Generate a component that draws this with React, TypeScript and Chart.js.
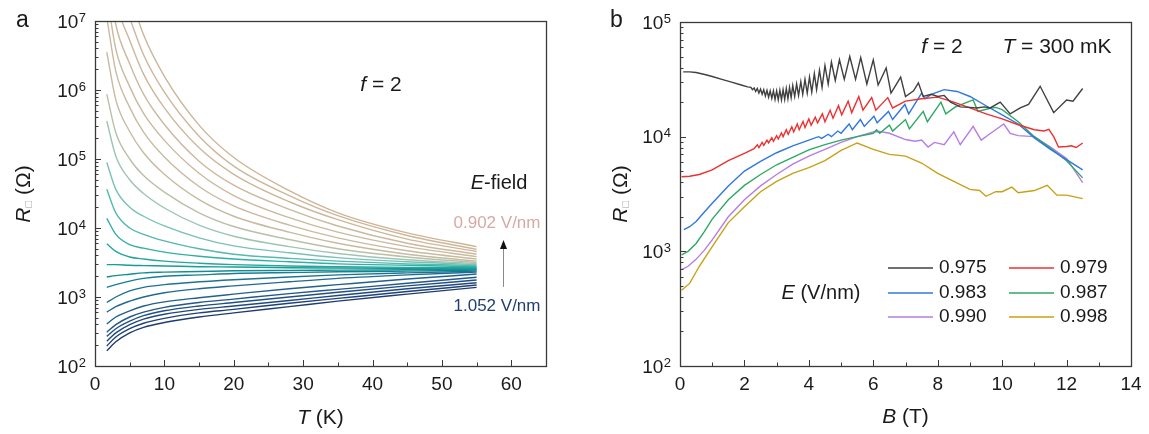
import React, { useEffect, useRef } from 'react';
import { Chart, registerables } from 'chart.js';

Chart.register(...registerables);

const FONT = '"Liberation Sans", Arial, Helvetica, sans-serif';
const W = 1149;
const H = 434;
const AXIS = '#3a3a3a';
const TEXT = '#1a1a1a';

// ---------------- Panel a : R(T) for gate fields 0.902 ... 1.052 V/nm ----------------
const temperatureK = [1.7, 3, 5, 7, 10, 15, 20, 28, 35, 45, 55];
const sheetResistanceA: number[][] = [
  [1.0e9, 1.1e8, 2.5e7, 6.3e6, 1.58e6, 3.1e5, 1.05e5, 3.47e4, 1.66e4, 8.5e3, 5.37e3],
  [4.0e8, 4.7e7, 1.12e7, 3.24e6, 9.3e5, 2.14e5, 7.9e4, 2.95e4, 1.51e4, 7.8e3, 4.9e3],
  [1.58e8, 2.04e7, 5.25e6, 1.7e6, 5.5e5, 1.45e5, 6.0e4, 2.4e4, 1.32e4, 6.9e3, 4.57e3],
  [6.3e7, 8.9e6, 2.4e6, 8.7e5, 3.16e5, 9.3e4, 4.17e4, 1.86e4, 1.07e4, 6.0e3, 4.17e3],
  [2.5e7, 3.9e6, 1.12e6, 4.57e5, 1.86e5, 6.2e4, 2.95e4, 1.41e4, 8.7e3, 5.37e3, 3.85e3],
  [1.12e7, 1.86e6, 5.6e5, 2.45e5, 1.07e5, 4.0e4, 2.09e4, 1.1e4, 7.2e3, 4.68e3, 3.55e3],
  [3.55e6, 7.2e5, 2.5e5, 1.23e5, 6.0e4, 2.57e4, 1.48e4, 8.7e3, 6.0e3, 4.17e3, 3.31e3],
  [8.7e5, 2.4e5, 1.0e5, 5.75e4, 3.31e4, 1.66e4, 1.05e4, 6.8e3, 5.0e3, 3.8e3, 3.16e3],
  [3.55e5, 1.1e5, 5.0e4, 3.16e4, 1.95e4, 1.1e4, 7.6e3, 5.37e3, 4.27e3, 3.47e3, 3.05e3],
  [8.9e4, 3.63e4, 2.0e4, 1.48e4, 1.07e4, 7.2e3, 5.5e3, 4.37e3, 3.72e3, 3.24e3, 2.95e3],
  [3.63e4, 1.66e4, 1.0e4, 8.1e3, 6.5e3, 5.0e3, 4.17e3, 3.63e3, 3.31e3, 3.02e3, 2.85e3],
  [1.38e4, 8.1e3, 5.75e3, 5.1e3, 4.47e3, 3.9e3, 3.55e3, 3.24e3, 3.02e3, 2.88e3, 2.75e3],
  [5.9e3, 4.57e3, 3.8e3, 3.55e3, 3.31e3, 3.09e3, 2.95e3, 2.82e3, 2.75e3, 2.69e3, 2.66e3],
  [2.95e3, 2.95e3, 2.88e3, 2.85e3, 2.82e3, 2.75e3, 2.72e3, 2.66e3, 2.63e3, 2.6e3, 2.57e3],
  [1.95e3, 2.04e3, 2.14e3, 2.24e3, 2.29e3, 2.34e3, 2.4e3, 2.43e3, 2.45e3, 2.48e3, 2.51e3],
  [1.38e3, 1.51e3, 1.7e3, 1.86e3, 2.0e3, 2.09e3, 2.19e3, 2.26e3, 2.32e3, 2.37e3, 2.45e3],
  [832, 1.0e3, 1.23e3, 1.38e3, 1.51e3, 1.66e3, 1.78e3, 1.95e3, 2.09e3, 2.24e3, 2.37e3],
  [603, 724, 871, 1.0e3, 1.15e3, 1.32e3, 1.45e3, 1.66e3, 1.86e3, 2.09e3, 2.29e3],
  [407, 513, 631, 741, 851, 977, 1.1e3, 1.32e3, 1.51e3, 1.82e3, 2.15e3],
  [309, 398, 513, 603, 708, 832, 933, 1.12e3, 1.29e3, 1.58e3, 1.93e3],
  [269, 347, 447, 537, 631, 741, 832, 1.0e3, 1.17e3, 1.45e3, 1.76e3],
  [229, 302, 398, 479, 562, 661, 741, 891, 1.05e3, 1.32e3, 1.61e3],
  [195, 263, 347, 417, 490, 589, 661, 813, 955, 1.2e3, 1.49e3],
  [166, 224, 302, 363, 427, 513, 589, 724, 871, 1.1e3, 1.38e3],
];
const fieldTopLabel = '0.902 V/nm';
const fieldBottomLabel = '1.052 V/nm';

const paletteA = [
  'rgb(206,181,152)', 'rgb(206,182,153)', 'rgb(205,183,155)', 'rgb(204,184,157)',
  'rgb(203,185,159)', 'rgb(201,186,160)', 'rgb(198,187,160)', 'rgb(185,192,168)',
  'rgb(158,197,180)', 'rgb(122,193,181)', 'rgb(84,185,175)', 'rgb(50,175,165)',
  'rgb(33,167,158)', 'rgb(22,157,151)', 'rgb(18,142,146)', 'rgb(22,128,146)',
  'rgb(28,116,146)', 'rgb(33,106,145)', 'rgb(35,96,141)', 'rgb(35,88,136)',
  'rgb(34,80,131)', 'rgb(33,73,125)', 'rgb(32,66,118)', 'rgb(31,60,112)',
];

// ---------------- Panel b : R(B) at T = 300 mK ----------------
const fieldLabelsB = ['0.975', '0.979', '0.983', '0.987', '0.990', '0.998'];
const colorsB = ['#404040', '#ef3030', '#2f78e0', '#2ea865', '#b57ee6', '#c9a015'];

const bField0975 = [0.1, 0.3, 0.5, 0.8, 1.0, 1.3, 1.6, 1.9, 2.1, 2.2, 2.25, 2.3, 2.35, 2.4, 2.45, 2.5, 2.55, 2.6, 2.65, 2.7, 2.75, 2.8, 2.85, 2.9, 2.95, 3.0, 3.05, 3.1, 3.15, 3.2, 3.25, 3.3, 3.35, 3.4, 3.45, 3.5, 3.56, 3.62, 3.68, 3.75, 3.81, 3.88, 3.95, 4.02, 4.09, 4.17, 4.24, 4.33, 4.41, 4.5, 4.6, 4.7, 4.82, 4.95, 5.1, 5.27, 5.45, 5.61, 5.8, 6.0, 6.15, 6.4, 6.55, 6.7, 6.85, 7.0, 7.25, 7.4, 7.55, 7.8, 8.0, 8.2, 8.4, 8.7, 9.0, 9.2, 9.45, 9.63, 9.94, 10.25, 10.56, 10.82, 11.18, 11.6, 12.0, 12.2, 12.5];
const r0975 = [3.67e4, 3.67e4, 3.63e4, 3.47e4, 3.35e4, 3.16e4, 2.99e4, 2.82e4, 2.72e4, 2.69e4, 2.57e4, 2.66e4, 2.48e4, 2.63e4, 2.4e4, 2.6e4, 2.34e4, 2.57e4, 2.26e4, 2.54e4, 2.21e4, 2.51e4, 2.16e4, 2.51e4, 2.11e4, 2.51e4, 2.09e4, 2.54e4, 2.09e4, 2.57e4, 2.11e4, 2.63e4, 2.14e4, 2.69e4, 2.19e4, 2.79e4, 2.24e4, 2.88e4, 2.29e4, 3.02e4, 2.34e4, 3.16e4, 2.4e4, 3.31e4, 2.45e4, 3.55e4, 2.57e4, 3.8e4, 2.69e4, 4.17e4, 2.88e4, 4.47e4, 3.09e4, 4.68e4, 3.16e4, 5.0e4, 3.16e4, 4.9e4, 2.88e4, 4.68e4, 2.82e4, 3.98e4, 2.4e4, 2.82e4, 3.31e4, 2.24e4, 2.51e4, 2.95e4, 2.24e4, 2.34e4, 2.24e4, 2.29e4, 2.0e4, 1.82e4, 1.8e4, 1.78e4, 1.82e4, 1.78e4, 2.0e4, 1.58e4, 1.78e4, 1.91e4, 2.75e4, 1.62e4, 2.09e4, 2.04e4, 2.63e4];

const bField0979 = [0.05, 0.3, 0.6, 1.0, 1.5, 2.0, 2.3, 2.4, 2.45, 2.55, 2.6, 2.7, 2.75, 2.85, 2.9, 3.0, 3.05, 3.15, 3.2, 3.3, 3.36, 3.47, 3.53, 3.64, 3.7, 3.82, 3.88, 4.0, 4.07, 4.2, 4.27, 4.42, 4.5, 4.66, 4.75, 4.92, 5.02, 5.22, 5.33, 5.55, 5.68, 5.95, 6.08, 6.45, 6.6, 7.0, 7.5, 8.0, 8.5, 9.0, 9.5, 10.0, 10.5, 11.0, 11.3, 11.45, 11.6, 11.75, 12.0, 12.15, 12.3, 12.5];
const r0979 = [4.47e3, 4.52e3, 4.68e3, 5.13e3, 6.17e3, 7.16e3, 7.85e3, 8.51e3, 8.04e3, 8.91e3, 8.41e3, 9.33e3, 8.81e3, 9.77e3, 9.12e3, 1.02e4, 9.55e3, 1.08e4, 1.0e4, 1.15e4, 1.05e4, 1.22e4, 1.1e4, 1.29e4, 1.15e4, 1.36e4, 1.2e4, 1.43e4, 1.26e4, 1.48e4, 1.32e4, 1.58e4, 1.35e4, 1.7e4, 1.45e4, 1.86e4, 1.55e4, 2.04e4, 1.62e4, 2.24e4, 1.7e4, 2.19e4, 1.7e4, 2.19e4, 1.78e4, 2.04e4, 2.14e4, 2.21e4, 2.0e4, 1.78e4, 1.58e4, 1.43e4, 1.27e4, 1.15e4, 1.12e4, 1.16e4, 1.0e4, 8.13e3, 8.22e3, 8.32e3, 8.04e3, 8.81e3];

const bField0983 = [0.12, 0.3, 0.5, 0.75, 1.0, 1.5, 2.0, 2.5, 3.0, 3.5, 4.0, 4.3, 4.4, 4.6, 4.7, 4.9, 5.0, 5.25, 5.35, 5.6, 5.72, 6.02, 6.12, 6.47, 6.6, 6.98, 7.1, 7.5, 7.6, 7.8, 8.2, 8.6, 9.0, 9.5, 10.0, 10.5, 11.0, 11.5, 12.0, 12.5];
const r0983 = [1.55e3, 1.64e3, 1.82e3, 2.19e3, 2.63e3, 3.72e3, 5.01e3, 6.1e3, 7.24e3, 8.32e3, 9.33e3, 1.0e4, 9.66e3, 1.05e4, 1.0e4, 1.12e4, 1.07e4, 1.29e4, 1.15e4, 1.41e4, 1.23e4, 1.51e4, 1.32e4, 1.66e4, 1.41e4, 1.91e4, 1.58e4, 2.4e4, 2.14e4, 2.34e4, 2.57e4, 2.48e4, 2.24e4, 1.86e4, 1.55e4, 1.29e4, 9.77e3, 7.76e3, 6.31e3, 5.13e3];

const bField0987 = [0.05, 0.25, 0.5, 0.75, 1.0, 1.5, 2.0, 2.5, 3.0, 3.5, 4.0, 4.5, 5.0, 5.5, 6.0, 6.1, 6.2, 6.5, 6.6, 7.0, 7.12, 7.55, 7.68, 8.1, 8.25, 8.55, 9.1, 9.25, 9.6, 9.8, 10.0, 10.5, 11.0, 11.5, 12.0, 12.5];
const r0987 = [933, 1.0e3, 1.17e3, 1.48e3, 1.91e3, 2.82e3, 3.76e3, 4.68e3, 5.69e3, 6.61e3, 7.67e3, 8.51e3, 9.33e3, 1.0e4, 1.07e4, 1.15e4, 1.07e4, 1.26e4, 1.12e4, 1.41e4, 1.17e4, 1.66e4, 1.35e4, 2.0e4, 1.58e4, 1.82e4, 2.09e4, 1.66e4, 1.76e4, 1.8e4, 1.72e4, 1.35e4, 1.0e4, 7.94e3, 6.17e3, 4.37e3];

const bField0990 = [0.05, 0.25, 0.5, 0.75, 1.0, 1.5, 2.0, 2.5, 3.0, 3.5, 4.0, 4.5, 5.0, 5.5, 6.0, 6.2, 6.5, 7.0, 7.3, 7.5, 7.7, 7.9, 8.2, 8.5, 8.7, 9.1, 9.35, 9.6, 10.05, 10.25, 10.5, 11.0, 11.5, 12.0, 12.5];
const r0990 = [692, 741, 851, 1.02e3, 1.26e3, 2.0e3, 2.82e3, 3.72e3, 4.68e3, 5.75e3, 6.76e3, 7.76e3, 8.91e3, 1.0e4, 1.1e4, 1.11e4, 1.07e4, 9.44e3, 9.12e3, 9.33e3, 8.13e3, 8.91e3, 8.51e3, 1.1e4, 8.51e3, 1.23e4, 9.33e3, 1.05e4, 1.29e4, 1.07e4, 1.02e4, 1.0e4, 8.13e3, 6.46e3, 3.98e3];

const bField0998 = [0.05, 0.3, 0.6, 1.0, 1.5, 2.0, 2.5, 3.0, 3.5, 4.0, 4.5, 5.0, 5.5, 6.0, 6.5, 7.0, 7.5, 8.0, 8.5, 9.0, 9.3, 9.5, 9.8, 10.0, 10.3, 10.5, 11.0, 11.4, 11.7, 12.0, 12.5];
const r0998 = [457, 525, 741, 1.1e3, 1.78e3, 2.45e3, 3.31e3, 4.07e3, 4.79e3, 5.37e3, 6.17e3, 7.59e3, 8.81e3, 7.76e3, 7.0e3, 6.76e3, 5.89e3, 4.79e3, 4.07e3, 3.47e3, 3.39e3, 3.02e3, 3.31e3, 3.31e3, 3.63e3, 3.24e3, 3.39e3, 3.76e3, 3.09e3, 3.09e3, 2.88e3];

const seriesB = [
  { b: bField0975, r: r0975 },
  { b: bField0979, r: r0979 },
  { b: bField0983, r: r0983 },
  { b: bField0987, r: r0987 },
  { b: bField0990, r: r0990 },
  { b: bField0998, r: r0998 },
];

// ---------------- drawing helpers ----------------
type Part = { t: string; italic?: boolean; size: number; dy?: number; color?: string };

function font(size: number, italic?: boolean) {
  return `${italic ? 'italic ' : ''}${size}px ${FONT}`;
}

function drawRich(ctx: CanvasRenderingContext2D, parts: Part[], x: number, y: number, align: 'center' | 'left' = 'center') {
  ctx.textBaseline = 'middle';
  ctx.textAlign = 'left';
  const widths = parts.map((p) => {
    ctx.font = font(p.size, p.italic);
    return ctx.measureText(p.t).width;
  });
  const total = widths.reduce((a, b) => a + b, 0);
  let cx = align === 'center' ? x - total / 2 : x;
  parts.forEach((p, i) => {
    ctx.font = font(p.size, p.italic);
    ctx.fillStyle = p.color || TEXT;
    ctx.fillText(p.t, cx, y + (p.dy || 0));
    cx += widths[i];
  });
}

type DecorCfg = {
  xMax: number;
  xMinor: number;
  xMajor: number;
  yMinExp: number;
  yMaxExp: number;
  extra: (ctx: CanvasRenderingContext2D, chart: any) => void;
};

function makeDecor(id: string, d: DecorCfg) {
  return {
    id,
    afterDatasetsDraw(chart: any) {
      const ctx: CanvasRenderingContext2D = chart.ctx;
      const ca = chart.chartArea;
      const xs = chart.scales.x;
      const ys = chart.scales.y;
      ctx.save();
      ctx.strokeStyle = AXIS;
      ctx.lineWidth = 1;
      ctx.beginPath();
      const n = Math.round(d.xMax / d.xMinor);
      const every = Math.round(d.xMajor / d.xMinor);
      for (let k = 1; k < n; k++) {
        const px = Math.round(xs.getPixelForValue(k * d.xMinor)) + 0.5;
        const len = k % every === 0 ? 6 : 3.5;
        ctx.moveTo(px, ca.bottom);
        ctx.lineTo(px, ca.bottom - len);
      }
      for (let e = d.yMinExp; e < d.yMaxExp; e++) {
        for (let m = 1; m <= 9; m++) {
          if (e === d.yMinExp && m === 1) continue;
          const py = Math.round(ys.getPixelForValue(m * Math.pow(10, e))) + 0.5;
          const len = m === 1 ? 6 : 3.5;
          ctx.moveTo(ca.left, py);
          ctx.lineTo(ca.left + len, py);
        }
      }
      ctx.stroke();
      ctx.lineWidth = 1.3;
      ctx.strokeRect(Math.round(ca.left) + 0.5, Math.round(ca.top) + 0.5, Math.round(ca.right - ca.left), Math.round(ca.bottom - ca.top));
      ctx.fillStyle = TEXT;
      for (let e = d.yMinExp; e <= d.yMaxExp; e++) {
        const py = ys.getPixelForValue(Math.pow(10, e));
        const right = ca.left - 9;
        ctx.font = font(13);
        ctx.textAlign = 'left';
        ctx.textBaseline = 'alphabetic';
        const ew = ctx.measureText(String(e)).width;
        ctx.fillText(String(e), right - ew, py + 0.5);
        ctx.font = font(19);
        ctx.textAlign = 'right';
        ctx.fillText('10', right - ew - 0.5, py + 6.8);
      }
      d.extra(ctx, chart);
      ctx.restore();
    },
  };
}

function yTitle(ctx: CanvasRenderingContext2D, cx: number, cy: number) {
  ctx.save();
  ctx.translate(cx, cy);
  ctx.rotate(-Math.PI / 2);
  drawRich(ctx, [
    { t: 'R', italic: true, size: 21 },
    { t: '\u25A1', size: 11, dy: 5, color: '#9a9a9a' },
    { t: ' (\u03A9)', size: 21 },
  ], 0, 0);
  ctx.restore();
}

function axisFont() {
  return { family: FONT, size: 19 };
}

export default function App() {
  const refA = useRef<HTMLCanvasElement | null>(null);
  const refB = useRef<HTMLCanvasElement | null>(null);

  useEffect(() => {
    document.body.style.margin = '0';
    const decorA = makeDecor('decorA', {
      xMax: 65, xMinor: 5, xMajor: 10, yMinExp: 2, yMaxExp: 7,
      extra: (ctx, chart) => {
        const xs = chart.scales.x;
        const ys = chart.scales.y;
        ctx.font = font(23);
        ctx.fillStyle = TEXT;
        ctx.textAlign = 'left';
        ctx.textBaseline = 'alphabetic';
        ctx.fillText('a', 16, 27);
        drawRich(ctx, [{ t: 'T', italic: true, size: 21 }, { t: ' (K)', size: 21 }], 320.5, 418);
        yTitle(ctx, 24, 194);
        drawRich(ctx, [{ t: 'f', italic: true, size: 21 }, { t: ' = 2', size: 21 }], 381, 85);
        drawRich(ctx, [{ t: 'E', italic: true, size: 20 }, { t: '-field', size: 20 }], 499, 183);
        drawRich(ctx, [{ t: fieldTopLabel, size: 17, color: 'rgb(214,170,164)' }], 497, 223);
        drawRich(ctx, [{ t: fieldBottomLabel, size: 17, color: 'rgb(32,62,112)' }], 497, 306);
        const ax = Math.round(xs.getPixelForValue(58.85)) + 0.5;
        const y0 = ys.getPixelForValue(1400);
        const y1 = ys.getPixelForValue(6700);
        ctx.strokeStyle = '#8a8a8a';
        ctx.lineWidth = 1;
        ctx.beginPath();
        ctx.moveTo(ax, y0);
        ctx.lineTo(ax, y1 + 7);
        ctx.stroke();
        ctx.fillStyle = '#111';
        ctx.beginPath();
        ctx.moveTo(ax, y1);
        ctx.lineTo(ax - 3.5, y1 + 9);
        ctx.lineTo(ax + 3.5, y1 + 9);
        ctx.closePath();
        ctx.fill();
      },
    });

    const decorB = makeDecor('decorB', {
      xMax: 14, xMinor: 1, xMajor: 2, yMinExp: 2, yMaxExp: 5,
      extra: (ctx) => {
        ctx.font = font(23);
        ctx.fillStyle = TEXT;
        ctx.textAlign = 'left';
        ctx.textBaseline = 'alphabetic';
        ctx.fillText('b', 610, 27);
        drawRich(ctx, [{ t: 'B', italic: true, size: 21 }, { t: ' (T)', size: 21 }], 905.5, 417);
        yTitle(ctx, 621, 194);
        drawRich(ctx, [{ t: 'f', italic: true, size: 21 }, { t: ' = 2', size: 21 }], 942, 47);
        drawRich(ctx, [{ t: 'T', italic: true, size: 21 }, { t: ' = 300 mK', size: 21 }], 1057, 47);
        const rows = [268, 293, 317];
        const lineX = [888, 1009];
        fieldLabelsB.forEach((lab, i) => {
          const col = i % 2;
          const row = Math.floor(i / 2);
          const y = rows[row];
          ctx.strokeStyle = colorsB[i];
          ctx.lineWidth = 1.5;
          ctx.beginPath();
          ctx.moveTo(lineX[col], y);
          ctx.lineTo(lineX[col] + 45, y);
          ctx.stroke();
          drawRich(ctx, [{ t: lab, size: 19 }], lineX[col] + 51, y, 'left');
        });
        drawRich(ctx, [{ t: 'E', italic: true, size: 20 }, { t: ' (V/nm)', size: 20 }], 821, 293);
      },
    });

    const common = (padding: any) => ({
      responsive: false,
      animation: false as const,
      devicePixelRatio: 1,
      events: [] as any[],
      layout: { padding },
      plugins: { legend: { display: false }, tooltip: { enabled: false }, title: { display: false } },
    });

    const chartA = new Chart(refA.current as HTMLCanvasElement, {
      type: 'line',
      data: {
        datasets: sheetResistanceA.map((r, i) => ({
          label: `curve ${i}`,
          data: temperatureK.map((t, j) => ({ x: t, y: r[j] })),
          borderColor: paletteA[i],
          borderWidth: 1.4,
          pointRadius: 0,
          fill: false,
          cubicInterpolationMode: 'monotone' as const,
        })),
      },
      options: {
        ...common({ left: 0, top: 21, right: W - 546, bottom: 0 }),
        scales: {
          x: {
            type: 'linear', min: 0, max: 65,
            afterFit: (s: any) => { s.height = 68; },
            grid: { display: false, drawTicks: false },
            border: { display: false },
            ticks: { stepSize: 10, includeBounds: false, padding: 7, color: TEXT, font: axisFont(), maxRotation: 0, autoSkip: false },
          },
          y: {
            type: 'logarithmic', min: 100, max: 1e7,
            afterFit: (s: any) => { s.width = 95; },
            grid: { display: false, drawTicks: false },
            border: { display: false },
            ticks: { display: false },
          },
        },
      } as any,
      plugins: [decorA],
    });

    const chartB = new Chart(refB.current as HTMLCanvasElement, {
      type: 'line',
      data: {
        datasets: seriesB.map((s, i) => ({
          label: fieldLabelsB[i],
          data: s.b.map((b, j) => ({ x: b, y: s.r[j] })),
          borderColor: colorsB[i],
          borderWidth: 1.4,
          pointRadius: 0,
          fill: false,
          tension: 0,
        })),
      },
      options: {
        ...common({ left: 575, top: 22, right: W - 1131, bottom: 0 }),
        scales: {
          x: {
            type: 'linear', min: 0, max: 14,
            afterFit: (s: any) => { s.height = 68; },
            grid: { display: false, drawTicks: false },
            border: { display: false },
            ticks: { stepSize: 2, includeBounds: false, padding: 7, color: TEXT, font: axisFont(), maxRotation: 0, autoSkip: false },
          },
          y: {
            type: 'logarithmic', min: 100, max: 1e5,
            afterFit: (s: any) => { s.width = 105; },
            grid: { display: false, drawTicks: false },
            border: { display: false },
            ticks: { display: false },
          },
        },
      } as any,
      plugins: [decorB],
    });

    return () => {
      chartA.destroy();
      chartB.destroy();
    };
  }, []);

  return (
    <div style={{ position: 'relative', width: W, height: H, background: '#fff' }}>
      <canvas ref={refA} width={W} height={H} style={{ position: 'absolute', left: 0, top: 0, width: W, height: H }} />
      <canvas ref={refB} width={W} height={H} style={{ position: 'absolute', left: 0, top: 0, width: W, height: H }} />
    </div>
  );
}
